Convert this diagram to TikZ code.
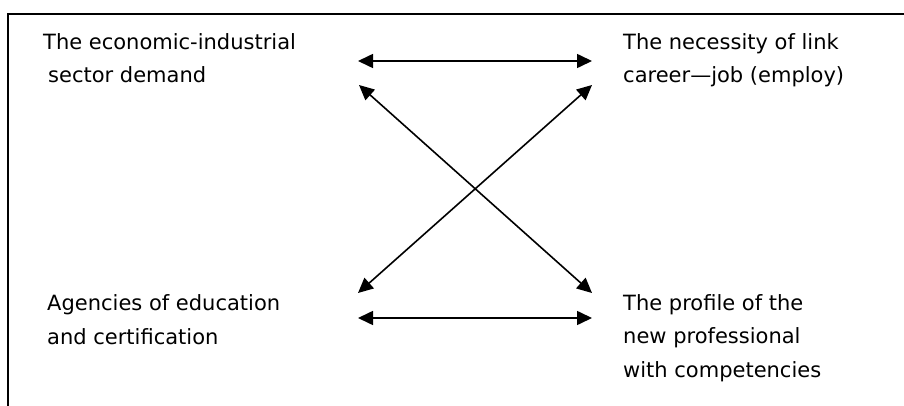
\documentclass[tikz,border=0pt]{standalone}
\usepackage{fontspec}
\setmainfont{DejaVu Sans}
\usetikzlibrary{arrows.meta}
\begin{document}
\begin{tikzpicture}[x=1pt,y=-1pt,
  label text/.style={anchor=base west,inner sep=0pt,align=left,
    font=\fontsize{21pt}{33.5pt}\selectfont},
  link/.style={line width=1.6pt,{Triangle[length=15pt,width=14pt]}-{Triangle[length=15pt,width=14pt]}},
  frame/.style={line width=1.6pt}]
  \useasboundingbox (0,0) rectangle (904,406);
  % open frame: top and left edges
  \draw[frame] (8,406) -- (8,14) -- (904,14);

  % the four concepts (anchored at the baseline of their last line)
  \node[label text] (demand) at (43,83) {The economic-industrial\\\hspace{5pt}sector demand};
  \node[label text] (link) at (623,83) {The necessity of link\\career—job (employ)};
  \node[label text] (agencies) at (47,344) {Agencies of education\\and certification};
  \node[label text] (profile) at (623,377) {The profile of the\\new professional\\with competencies};

  % arrow end points
  \coordinate (tL) at (358,61);
  \coordinate (tR) at (592,61);
  \coordinate (dUL) at (359,85);
  \coordinate (dUR) at (592,85);
  \coordinate (dLL) at (358,293);
  \coordinate (dLR) at (592,293);
  \coordinate (bL) at (358,318);
  \coordinate (bR) at (592,318);

  % relations
  \draw[link] (tL) -- (tR);
  \draw[link] (dUL) -- (dLR);
  \draw[link] (dUR) -- (dLL);
  \draw[link] (bL) -- (bR);
\end{tikzpicture}
\end{document}
